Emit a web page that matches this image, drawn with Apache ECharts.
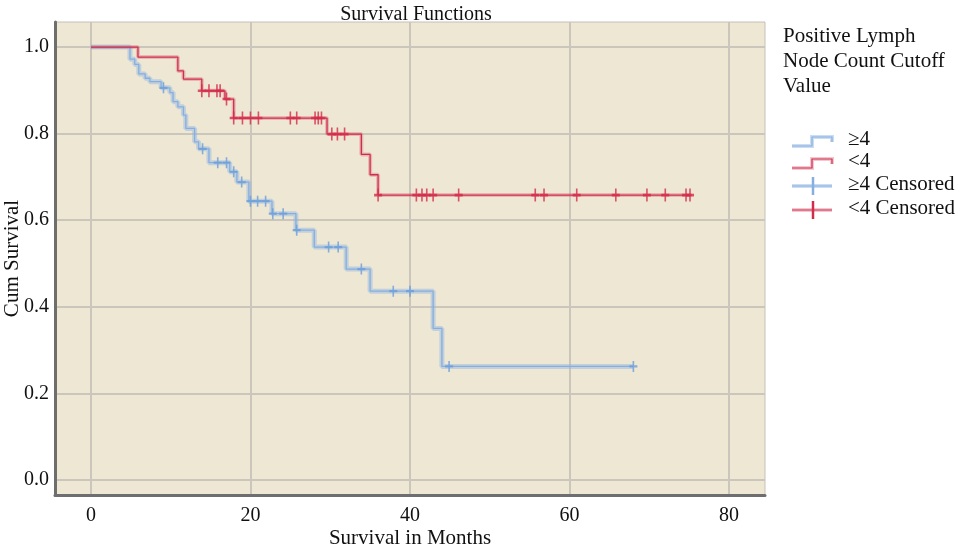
<!DOCTYPE html>
<html>
<head>
<meta charset="utf-8">
<script src="https://cdn.jsdelivr.net/npm/echarts@6/dist/echarts.min.js"></script>
<style>
html,body{margin:0;padding:0;background:#fff;}
#chart{width:965px;height:558px;}
</style>
</head>
<body>
<div id="chart"></div>
<script>
// ---- data ----
var xTicks = [0, 20, 40, 60, 80];
var yTicks = [0, 0.2, 0.4, 0.6, 0.8, 1.0];

// Kaplan-Meier steps: [time (months), cumulative survival after the event]
var stepsGE4 = [[0,1],[4.9,0.972],[5.5,0.960],[6.0,0.938],[6.8,0.928],[7.4,0.920],[8.8,0.906],
  [9.9,0.895],[10.3,0.874],[10.9,0.862],[11.6,0.843],[11.9,0.812],[13.0,0.781],[13.5,0.765],
  [14.8,0.733],[17.4,0.712],[18.3,0.688],[19.8,0.644],[22.7,0.615],[25.7,0.577],[28.0,0.538],
  [32.0,0.487],[35.0,0.436],[42.9,0.350],[44.0,0.262],[68.0,0.262]];
var stepsLT4 = [[0,1],[5.9,0.977],[10.9,0.945],[11.6,0.926],[13.9,0.899],[16.8,0.880],
  [17.9,0.836],[29.6,0.799],[33.9,0.752],[35.0,0.705],[36.0,0.658],[75.3,0.658]];

// censored observations: [time, survival level]
var censGE4 = [[9.1,0.906],[14.0,0.765],[15.9,0.733],[17.0,0.733],[17.9,0.712],[18.9,0.688],
  [20.0,0.644],[20.9,0.644],[21.9,0.644],[22.8,0.615],[24.1,0.615],[25.8,0.577],[29.8,0.538],
  [31.0,0.538],[33.9,0.487],[37.9,0.436],[40.0,0.436],[44.9,0.262],[68.0,0.262]];
var censLT4 = [[13.9,0.899],[14.8,0.899],[15.8,0.899],[16.2,0.899],[17.0,0.880],[17.9,0.836],
  [19.0,0.836],[20.0,0.836],[21.0,0.836],[25.0,0.836],[25.8,0.836],[28.1,0.836],[28.5,0.836],
  [28.9,0.836],[30.2,0.799],[30.9,0.799],[31.8,0.799],[36.0,0.658],[40.8,0.658],[41.5,0.658],
  [42.1,0.658],[42.9,0.658],[46.1,0.658],[55.7,0.658],[56.8,0.658],[60.9,0.658],[65.8,0.658],
  [69.7,0.658],[72.0,0.658],[74.6,0.658],[75.1,0.658]];

var legendTitle = ['Positive Lymph', 'Node Count Cutoff', 'Value'];
var legendNames = ['\u22654', '<4', '\u22654 Censored', '<4 Censored'];

// ---- styling ----
var FONT = '"Liberation Serif", "DejaVu Serif", serif';
var BLUE = '#86aee0', BLUE_BAND = 'rgba(140,180,228,0.45)';
var RED = '#d02c4c', RED_BAND = 'rgba(222,95,118,0.35)';
var PLUS = 'path://M4,0 L6,0 L6,4 L10,4 L10,6 L6,6 L6,10 L4,10 L4,6 L0,6 L0,4 L4,4 Z';

var chart = echarts.init(document.getElementById('chart'), null, {renderer: 'canvas'});

function stepLine(name, data, color, width, z) {
  return {type: 'line', name: name, data: data, step: 'end', showSymbol: false, symbol: 'none',
    lineStyle: {color: color, width: width}, z: z, silent: true, animation: false};
}
function censor(name, data, color, size) {
  return {type: 'scatter', name: name, data: data, symbol: PLUS, symbolSize: size,
    itemStyle: {color: color}, z: 6, silent: true, animation: false};
}

var graphics = [];
legendTitle.forEach(function (t, i) {
  graphics.push({type: 'text', left: 783, top: 26 + i * 25,
    style: {text: t, font: '21px ' + FONT, fill: '#111'}});
});
function stepIcon(y, band, core) {
  var pts = [[792, y + 5], [812, y + 5], [812, y - 4], [832, y - 4], [832, y + 1]];
  graphics.push({type: 'polyline', shape: {points: pts}, style: {stroke: band, lineWidth: 4, fill: null}});
  graphics.push({type: 'polyline', shape: {points: pts}, style: {stroke: core, lineWidth: 1.2, fill: null}});
}
function censIcon(y, band, core) {
  graphics.push({type: 'line', shape: {x1: 792, y1: y, x2: 832, y2: y}, style: {stroke: band, lineWidth: 4}});
  graphics.push({type: 'line', shape: {x1: 792, y1: y, x2: 832, y2: y}, style: {stroke: core, lineWidth: 1.2}});
  graphics.push({type: 'line', shape: {x1: 813, y1: y - 9, x2: 813, y2: y + 9}, style: {stroke: core, lineWidth: 2.5}});
}
stepIcon(141, BLUE_BAND, BLUE);
stepIcon(163, RED_BAND, RED);
censIcon(186, BLUE_BAND, BLUE);
censIcon(210, RED_BAND, RED);
[141, 163, 186, 210].forEach(function (y, i) {
  graphics.push({type: 'text', left: 848, top: y - 12,
    style: {text: legendNames[i], font: '21px ' + FONT, fill: '#111'}});
});

var option = {
  backgroundColor: '#ffffff',
  animation: false,
  title: {text: 'Survival Functions', left: 411, top: 0, textAlign: 'center',
    textStyle: {fontFamily: FONT, fontSize: 20, fontWeight: 'normal', color: '#111'}},
  grid: {left: 55, top: 22, right: 200, bottom: 63, show: true, outerBoundsMode: 'none',
    containLabel: false,
    backgroundColor: '#ede7d3', borderColor: '#c4c1b8', borderWidth: 1},
  xAxis: {type: 'value', min: -4.5, max: 84.5,
    name: 'Survival in Months', nameLocation: 'middle', nameGap: 33, nameMoveOverlap: false,
    nameTextStyle: {fontFamily: FONT, fontSize: 21, color: '#111'},
    axisLine: {show: true, onZero: false, lineStyle: {color: '#6e6e6e', width: 3}},
    axisTick: {show: false, customValues: xTicks},
    axisLabel: {customValues: xTicks, fontFamily: FONT, fontSize: 20, color: '#111', margin: 11},
    splitLine: {show: true, lineStyle: {color: '#cac6bb', width: 2}}},
  yAxis: {type: 'value', min: -0.035, max: 1.058,
    name: 'Cum Survival', nameLocation: 'middle', nameGap: 32, nameRotate: 90, nameMoveOverlap: false,
    nameTextStyle: {fontFamily: FONT, fontSize: 21, color: '#111'},
    axisLine: {show: true, onZero: false, lineStyle: {color: '#6e6e6e', width: 3}},
    axisTick: {show: false, customValues: yTicks},
    axisLabel: {customValues: yTicks, fontFamily: FONT, fontSize: 20, color: '#111', margin: 6,
      formatter: function (v) { return v.toFixed(1); }},
    splitLine: {show: true, lineStyle: {color: '#cac6bb', width: 2}}},
  series: [
    stepLine('\u22654 band', stepsGE4, BLUE_BAND, 5, 2),
    stepLine('\u22654', stepsGE4, BLUE, 1.3, 3),
    stepLine('<4 band', stepsLT4, RED_BAND, 4, 4),
    stepLine('<4', stepsLT4, RED, 1.3, 5),
    censor('\u22654 Censored', censGE4, '#6b9ddb', [8, 11]),
    censor('<4 Censored', censLT4, '#d42a4a', [8, 13])
  ],
  graphic: graphics
};
chart.setOption(option);
</script>
</body>
</html>
